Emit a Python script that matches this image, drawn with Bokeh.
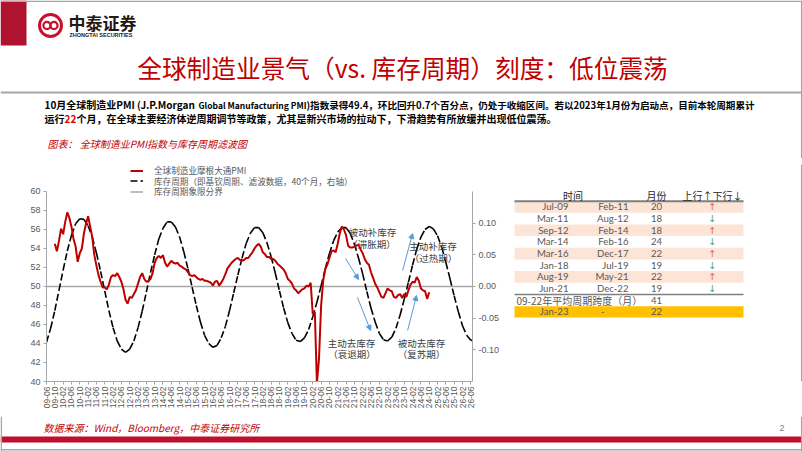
import math
from bokeh.plotting import figure
from bokeh.models import (Range1d, LinearAxis, FixedTicker, NumeralTickFormatter, Legend,
                          LegendItem, Label, Arrow, NormalHead, Span)
from bokeh.layouts import column, row
from bokeh.core.properties import value
from bokeh.embed import file_html
from bokeh.resources import INLINE

# ---------------- data ----------------
x_tick_labels = ["09-06", "09-10", "10-02", "10-06", "10-10", "11-02", "11-06", "11-10",
                 "12-02", "12-06", "12-10", "13-02", "13-06", "13-10", "14-02", "14-06",
                 "14-10", "15-02", "15-06", "15-10", "16-02", "16-06", "16-10", "17-02",
                 "17-06", "17-10", "18-02", "18-06", "18-10", "19-02", "19-06", "19-10",
                 "20-02", "20-06", "20-10", "21-02", "21-06", "21-10", "22-02", "22-06",
                 "22-10", "23-02", "23-06", "23-10", "24-02", "24-06", "24-10", "25-02",
                 "25-06", "25-10", "26-02", "26-06"]
x_tick_pos = list(range(0, 4 * len(x_tick_labels), 4))   # month index, 0 = 2009-06

# JPMorgan global manufacturing PMI, monthly from 2009-10 (month index 4)
pmi_start = 4
pmi = [54.5, 53.7, 54.8,
       56.1, 55.5, 56.8, 57.8, 57.2, 56.3, 55.0, 54.2, 52.6, 53.5, 54.0, 55.6,
       56.6, 57.4, 56.3, 55.2, 53.3, 52.2, 51.2, 50.5, 49.9, 49.9, 49.7, 50.2,
       51.0, 51.2, 51.1, 51.4, 51.0, 50.5, 49.7, 48.6, 48.2, 48.9, 48.8, 49.2,
       49.6, 50.3, 51.0, 51.4, 50.8, 50.5, 50.6, 50.8, 51.4, 52.5, 53.0, 53.2,
       53.0, 53.3, 52.5, 52.1, 52.4, 52.7, 52.5, 52.4, 52.5, 52.2, 52.1, 51.9,
       51.8, 51.5, 51.2, 51.1, 51.2, 51.0, 50.8, 50.7, 50.8, 50.6, 50.6, 50.5,
       50.4, 50.1, 50.5, 50.6, 50.1, 50.4, 50.8, 51.3, 51.9, 52.2, 52.5, 52.7,
       52.9, 53.0, 52.8, 52.7, 52.8, 53.0, 53.0, 53.3, 53.6, 54.0, 54.3, 54.5,
       54.2, 53.6, 53.4, 53.1, 53.1, 52.9, 52.9, 52.7, 52.4, 52.2, 52.0, 51.8,
       51.4, 50.8, 50.6, 50.3, 49.8, 49.6, 49.3, 49.5, 49.7, 49.8, 50.1, 50.0,
       50.4, 47.1, 47.3, 39.8, 42.4, 47.9, 50.6, 51.8, 52.3, 53.0, 53.7, 53.8,
       53.6, 54.5, 55.6, 56.3, 56.0, 55.4, 54.3, 54.1, 54.1, 54.2, 54.3, 54.4,
       53.9, 53.5, 52.9, 52.5, 52.3, 51.5, 50.9, 50.3, 49.9, 49.4, 48.9, 48.8,
       49.3, 49.8, 49.6, 49.5, 48.9, 48.8, 49.1, 49.2, 48.8, 49.2, 48.9, 49.6,
       50.2, 50.5, 50.4, 51.0, 50.6, 49.8, 49.6, 49.5, 48.7, 49.4]
pmi_m = list(range(pmi_start, pmi_start + len(pmi)))

# inventory cycle (filtered, right axis), every 2 months from 2009-06
cycle = [-0.088, -0.066, -0.038, -0.006, 0.026, 0.056, 0.081, 0.099, 0.107,
         0.106, 0.096, 0.078, 0.053, 0.024, -0.007, -0.038, -0.065, -0.086, -0.099, -0.104,
         -0.099, -0.086, -0.065, -0.039, -0.009, 0.022, 0.050, 0.075, 0.092, 0.102,
         0.102, 0.094, 0.078, 0.055, 0.028, -0.001, -0.030, -0.056, -0.077, -0.090, -0.096,
         -0.093, -0.081, -0.063, -0.038, -0.010, 0.018, 0.045, 0.068, 0.084, 0.093,
         0.093, 0.085, 0.069, 0.047, 0.021, -0.007, -0.034, -0.057, -0.074, -0.085,
         -0.087, -0.081, -0.068, -0.048, -0.025, 0.001, 0.028, 0.052, 0.072, 0.086, 0.093,
         0.093, 0.084, 0.067, 0.045, 0.020, -0.008, -0.034, -0.056, -0.074, -0.084,
         -0.086, -0.080, -0.066, -0.045, -0.020, 0.007, 0.034, 0.059, 0.078, 0.090, 0.095,
         0.091, 0.080, 0.062, 0.038, 0.012, -0.015, -0.040, -0.062, -0.077, -0.085, -0.086]
cycle_m = list(range(0, 2 * len(cycle), 2))
boundary = [0.0] * len(cycle)

legend_labels = ["全球制造业摩根大通PMI",
                 "库存周期（即基钦周期、滤波数据，40个月，右轴）",
                 "库存周期象限分界"]

# table
tbl_start = ["Jul-09", "Mar-11", "Sep-12", "Mar-14", "Mar-16", "Jan-18", "Aug-19", "Jun-21"]
tbl_end = ["Feb-11", "Aug-12", "Feb-14", "Feb-16", "Dec-17", "Jul-19", "May-21", "Dec-22"]
tbl_months = [20, 18, 18, 24, 22, 19, 22, 19]
tbl_dir = ["↑", "↓", "↑", "↓", "↑", "↓", "↑", "↓"]
tbl_avg_label = "09-22年平均周期跨度（月）"
tbl_avg = 41
tbl_cur = ["Jan-23", "-", 22]

CJK = "Noto Sans CJK SC"
GRAY = "#595959"
RED = "#C00000"
BORDER = "#A6A6A6"


def blank(w, h, xr, yr):
    f = figure(width=w, height=h, x_range=Range1d(*xr), y_range=Range1d(*yr),
               output_backend="svg", toolbar_location=None, x_axis_type=None,
               y_axis_type=None, min_border=0)
    f.outline_line_color = None
    f.grid.visible = False
    return f


def lab(f, x, y, text, size, color=GRAY, font=CJK, align="left", style="normal", base="middle"):
    f.add_layout(Label(x=x, y=y, text=text, text_font=font, text_font_size=size,
                       text_color=color, text_align=align, text_baseline=base,
                       text_font_style=style))


# ---------------- header ----------------
top = blank(802, 158, (0, 802), (158, 0))
top.add_layout(Span(location=0.8, dimension="width", line_color=BORDER, line_width=1.5))
top.add_layout(Span(location=801.2, dimension="height", line_color=BORDER, line_width=1.5))
top.quad(left=0, right=26, top=0, bottom=45, fill_color="#B0132F", line_color=None)
top.annulus(x=50, y=25, inner_radius=9.5, outer_radius=12.5, fill_color="#C8102E", line_color=None)
top.circle(x=[46.5, 53.5], y=[25, 25], radius=3.6, fill_color=None, line_color="#C8102E", line_width=2.2)
lab(top, 68, 22, "中泰证券", "17px", color="#231815", style="bold")
lab(top, 69, 34.5, "ZHONGTAI SECURITIES", "5.5px", color="#231815", font="Liberation Sans", style="bold")
lab(top, 402, 66, "全球制造业景气（vs. 库存周期）刻度：低位震荡", "24.7px", color=RED, align="center")
top.add_layout(Span(location=92, dimension="width", line_color=BORDER, line_width=2))
lab(top, 44, 104, "10月全球制造业PMI (J.P.Morgan", "10px", color="#000000", style="bold")
lab(top, 198, 104.5, "Global Manufacturing PMI", "8.5px", color="#000000", style="bold")
lab(top, 306, 104, ")指数录得49.4，环比回升0.7个百分点，仍处于收缩区间。若以2023年1月份为启动点，目前本轮周期累计",
    "9.55px", color="#000000", style="bold")
lab(top, 44, 118, "运行", "10px", color="#000000", style="bold")
lab(top, 64, 118, "22", "10px", color="#E00000", style="bold")
lab(top, 76, 118, "个月，在全球主要经济体逆周期调节等政策，尤其是新兴市场的拉动下，下滑趋势有所放缓并出现低位震荡。",
    "10px", color="#000000", style="bold")
lab(top, 47, 143, "图表：  全球制造业PMI指数与库存周期滤波图", "10px", color=RED, style="italic")

# ---------------- chart ----------------
# frame: x 46..472, y 164..381 ; left axis 40..60 drawn over 191..381
p = figure(width=502, height=258, x_range=Range1d(0, 204.8), y_range=Range1d(40, 62.842),
           output_backend="svg", toolbar_location=None,
           min_border_left=46, min_border_right=30, min_border_top=6, min_border_bottom=35)
p.outline_line_color = None
p.grid.visible = False
p.extra_y_ranges = {"r": Range1d(-0.15, 0.19263)}

ax_col = "#A6A6A6"
p.yaxis.ticker = FixedTicker(ticks=list(range(40, 61, 2)))
p.yaxis.bounds = (40, 60)
p.xaxis.ticker = FixedTicker(ticks=x_tick_pos)
p.xaxis.major_label_overrides = {t: s for t, s in zip(x_tick_pos, x_tick_labels)}
p.xaxis.major_label_orientation = math.pi / 2
ra = LinearAxis(y_range_name="r", ticker=FixedTicker(ticks=[-0.1, -0.05, 0.0, 0.05, 0.1]),
                formatter=NumeralTickFormatter(format="0.00"), bounds=(-0.15, 0.15))
p.add_layout(ra, "right")
for ax in p.axis:
    ax.axis_line_color = ax_col
    ax.major_tick_line_color = ax_col
    ax.minor_tick_line_color = None
    ax.major_tick_out = 3
    ax.major_tick_in = 0
    ax.major_label_text_font = "Liberation Sans"
    ax.major_label_text_font_size = "9px"
    ax.major_label_text_color = GRAY
    ax.major_label_standoff = 3
p.xaxis.major_label_text_font_size = "8.5px"
p.xaxis.major_label_standoff = 2

r_bound = p.line(cycle_m, boundary, y_range_name="r", line_color="#A6A6A6", line_width=1.5)
seg_x = [[cycle_m[i], cycle_m[i + 1]] for i in range(len(cycle) - 1)]
seg_y = [[cycle[i], cycle[i + 1]] for i in range(len(cycle) - 1)]
r_cyc = p.multi_line(seg_x, seg_y, y_range_name="r", line_color="#000000", line_width=1.6,
                     line_dash="7 3")
r_pmi = p.line(pmi_m, pmi, line_color=RED, line_width=2)

# three one-item legends, stacked tightly (bottom-left anchored, frame px)
leg_y = [205, 194.5, 184]
for lbl, rend, ly in zip(legend_labels, [r_pmi, r_cyc, r_bound], leg_y):
    lg = Legend(items=[LegendItem(label=lbl, renderers=[rend])], location=(84, ly))
    lg.label_text_font = CJK
    lg.label_text_font_size = "8.6px"
    lg.label_text_color = GRAY
    lg.label_height = 9
    lg.glyph_height = 9
    lg.glyph_width = 13
    lg.label_standoff = 11
    lg.spacing = 0
    lg.padding = 0
    lg.margin = 0
    lg.background_fill_alpha = 0
    lg.border_line_alpha = 0
    p.add_layout(lg)

# phase annotations (month index, left-axis value)
ann = [("被动补库存", 156.7, 55.7), ("（滞胀期）", 156.5, 54.5),
       ("主动补库存", 185.8, 54.3), ("（过热期）", 186.0, 53.05),
       ("主动去库存", 146.6, 44.0), ("（衰退期）", 146.9, 42.85),
       ("被动去库存", 180.3, 44.0), ("（复苏期）", 180.3, 42.85)]
for t, ax_, ay_ in ann:
    lab(p, ax_, ay_, t, "9.5px", color="#404040", align="center")

arrows = [(143.75, 52.95, 150.0, 50.74), (149.5, 48.84, 155.8, 45.37),
          (171.2, 51.68, 176.0, 55.58), (173.6, 45.37, 177.9, 49.05)]
ac = "#5B9BD5"
for xs, ys, xe, ye in arrows:
    p.add_layout(Arrow(x_start=xs, y_start=ys, x_end=xe, y_end=ye, line_color=ac, line_width=1,
                       end=NormalHead(size=5, fill_color=ac, line_color=ac)))

# ---------------- table ----------------
tbl = blank(300, 258, (502, 802), (416, 158))
tbl.add_layout(Span(location=801.2, dimension="height", line_color=BORDER, line_width=1.5))
row_h = 13.86
row_c = [208.5 + row_h * i for i in range(len(tbl_start))]
tbl.rect(x=628.5, y=[row_c[i] for i in range(0, len(row_c), 2)], width=229, height=row_h,
         fill_color="#FCE4D6", line_color=None)
avg_y = row_c[-1] + row_h
cur_y = avg_y + row_h
tbl.rect(x=628.5, y=cur_y, width=229, height=row_h - 0.4, fill_color="#FFC000", line_color=None)
tbl.segment(x0=514, x1=743, y0=201.6, y1=201.6, line_color="#7F7F7F", line_width=2)
tbl.segment(x0=514, x1=743, y0=row_c[-1] + row_h / 2, y1=row_c[-1] + row_h / 2,
            line_color="#7F7F7F", line_width=1.5)

hdr_font = value(CJK)
tbl.text(x=[572.5, 656, 712], y=[195] * 3, text=["时间", "月份", "上行↑下行↓"],
         text_font=hdr_font, text_font_size="10px", text_color="#262626",
         text_align="center", text_baseline="middle")
num_font = value("Lato")
NS = "9.6px"
tbl.text(x=[568] * 8, y=row_c, text=tbl_start, text_font=num_font, text_font_size=NS,
         text_color=GRAY, text_align="right", text_baseline="middle")
tbl.text(x=[628] * 8, y=row_c, text=tbl_end, text_font=num_font, text_font_size=NS,
         text_color=GRAY, text_align="right", text_baseline="middle")
tbl.text(x=[656] * 8, y=row_c, text=[str(v) for v in tbl_months], text_font=num_font,
         text_font_size=NS, text_color=GRAY, text_align="center", text_baseline="middle")
dir_col = ["#E06060" if d == "↑" else "#4F9F72" for d in tbl_dir]
tbl.text(x=[712] * 8, y=row_c, text=tbl_dir, text_font=value("DejaVu Sans"),
         text_font_size="9.5px", text_color=dir_col, text_align="center", text_baseline="middle")
tbl.text(x=[516], y=[avg_y], text=[tbl_avg_label], text_font=hdr_font, text_font_size="10px",
         text_color=GRAY, text_align="left", text_baseline="middle")
tbl.text(x=[656], y=[avg_y], text=[str(tbl_avg)], text_font=num_font, text_font_size=NS,
         text_color=GRAY, text_align="center", text_baseline="middle")
tbl.text(x=[568, 602, 656], y=[cur_y] * 3, text=[tbl_cur[0], tbl_cur[1], str(tbl_cur[2])],
         text_font=num_font, text_font_size=NS, text_color=GRAY,
         text_align=["right", "center", "center"], text_baseline="middle")

# ---------------- footer ----------------
foot = blank(802, 35, (0, 802), (451, 416))
foot.add_layout(Span(location=801.2, dimension="height", line_color=BORDER, line_width=1.5))
foot.add_layout(Span(location=0.8, dimension="height", line_color=BORDER, line_width=1.5))
lab(foot, 43, 427, "数据来源：Wind，Bloomberg，中泰证券研究所", "10px", color=RED, style="italic")
lab(foot, 779, 427, "2", "9px", color="#7F7F7F", font="Liberation Sans")
foot.quad(left=0, right=802, top=436, bottom=442, fill_color="#BE0F2D", line_color=None)
foot.add_layout(Span(location=449.3, dimension="width", line_color=BORDER, line_width=1.5))

layout = column(top, row(p, tbl), foot)
open("out.html", "w").write(file_html(layout, INLINE))
